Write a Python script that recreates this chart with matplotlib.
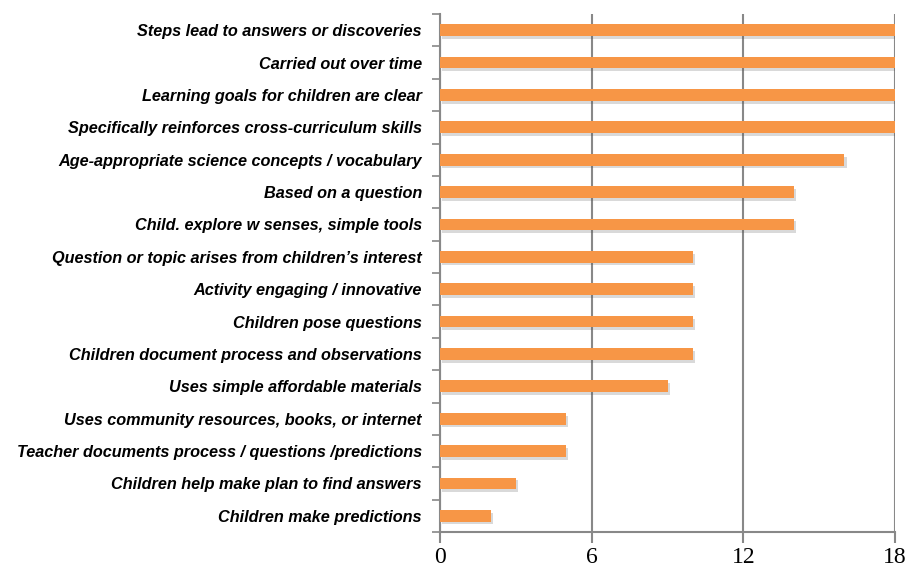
import matplotlib
matplotlib.use("Agg")
import matplotlib.pyplot as plt
import matplotlib.patheffects as pe
import numpy as np

categories = [
    "Steps lead to answers or discoveries",
    "Carried out over time",
    "Learning goals for children are clear",
    "Specifically reinforces cross-curriculum skills",
    "Age-appropriate science concepts / vocabulary",
    "Based on a question",
    "Child. explore w senses, simple tools",
    "Question or topic arises from children\u2019s interest",
    "Activity engaging / innovative",
    "Children pose questions",
    "Children document process and observations",
    "Uses simple affordable materials",
    "Uses community resources, books, or internet",
    "Teacher documents process / questions /predictions",
    "Children help make plan to find answers",
    "Children make predictions",
]
values = [18, 18, 18, 18, 16, 14, 14, 10, 10, 10, 10, 9, 5, 5, 3, 2]
xticks = [0, 6, 12, 18]

fig = plt.figure(figsize=(9.16, 5.78), dpi=100)
ax = fig.add_axes([440/916, 46/578, 455/916, 518/578])

n = len(categories)
y = np.arange(n)[::-1]
bars = ax.barh(y, values, height=0.36, color="#F79646", zorder=3)
for b in bars:
    b.set_path_effects([pe.SimplePatchShadow(offset=(1.5, -2), alpha=0.22, shadow_rgbFace="#555555"), pe.Normal()])

ax.set_xlim(0, 18)
ax.set_ylim(-0.5, n - 0.5)
ax.set_xticks(xticks)
ax.set_xticklabels([str(t) for t in xticks], family="Liberation Serif", fontsize=17)
ax.set_yticks(y)
ax.set_yticklabels(categories, fontsize=11.7, fontweight="bold", fontstyle="italic",
                   family="Liberation Sans")
ax.set_yticks(np.arange(-0.5, n, 1.0), minor=True)
ax.tick_params(axis="y", which="major", length=0, pad=13)
ax.tick_params(axis="y", which="minor", length=6, color="#888888", width=1.2)
ax.tick_params(axis="x", which="major", length=8, color="#888888", width=1.5, pad=3)

ax.grid(axis="x", color="#888888", linewidth=1.5, zorder=1)
ax.set_axisbelow(True)
for s in ["top", "right"]:
    ax.spines[s].set_visible(False)
for s in ["left", "bottom"]:
    ax.spines[s].set_color("#888888")
    ax.spines[s].set_linewidth(1.5)

fig.savefig("out.png", dpi=100)
